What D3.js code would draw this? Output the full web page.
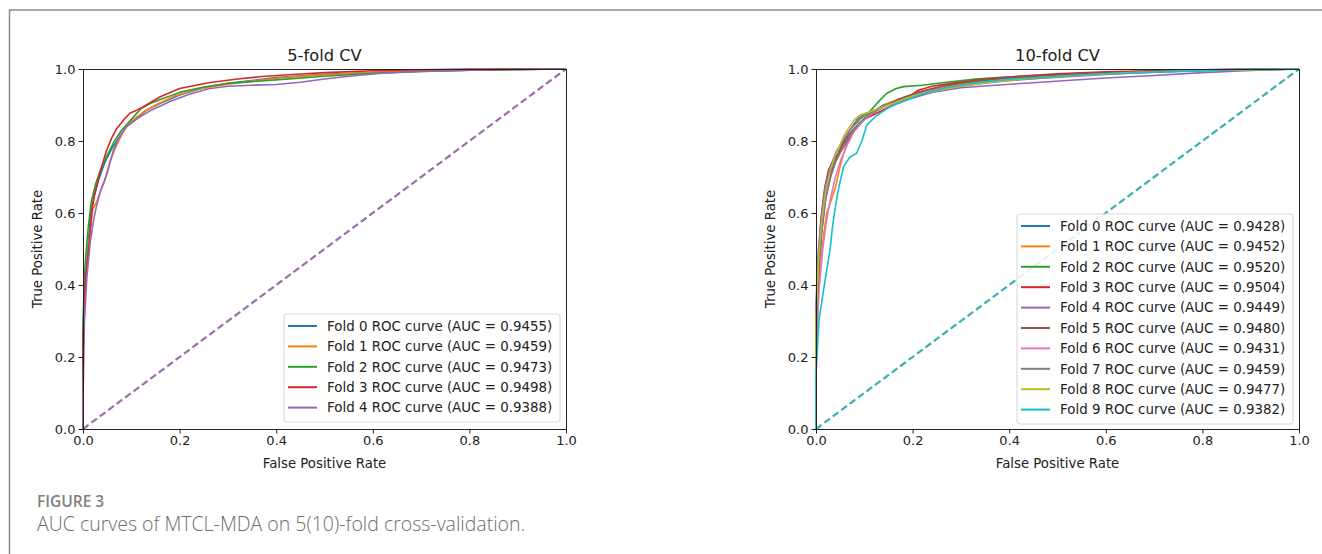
<!DOCTYPE html>
<html>
<head>
<meta charset="utf-8">
<script src="https://cdn.jsdelivr.net/npm/d3@7"></script>
<style>
body { margin: 0; background: #fff; }
svg text { font-family: "DejaVu Sans", sans-serif; fill: #222; }
.caption text { font-family: "Open Sans", "Lato", sans-serif; }
</style>
</head>
<body>
<div id="chart"></div>
<script>
// data
var foldColors = ["#1f77b4", "#ff7f0e", "#2ca02c", "#d62728", "#9467bd",
  "#8c564b", "#e377c2", "#7f7f7f", "#bcbd22", "#17becf"];
var ticks = [0, 0.2, 0.4, 0.6, 0.8, 1.0];
var chance = [[0, 0], [1, 1]];

var auc5 = [0.9455, 0.9459, 0.9473, 0.9498, 0.9388];
var auc10 = [0.9428, 0.9452, 0.9520, 0.9504, 0.9449, 0.9480, 0.9431, 0.9459, 0.9477, 0.9382];

var cv5 = [
  [[0,0],[0,0.22],[0.004,0.38],[0.01,0.5],[0.016,0.6],[0.024,0.65],[0.032,0.69],[0.045,0.74],[0.06,0.78],[0.075,0.81],[0.09,0.84],[0.11,0.86],[0.13,0.885],[0.16,0.905],[0.2,0.928],[0.25,0.948],[0.3,0.96],[0.35,0.968],[0.4,0.976],[0.5,0.985],[0.6,0.99],[0.7,0.994],[0.8,0.997],[0.9,0.999],[1,1]],
  [[0,0],[0,0.2],[0.005,0.4],[0.012,0.52],[0.02,0.61],[0.028,0.63],[0.036,0.66],[0.045,0.69],[0.055,0.74],[0.07,0.79],[0.085,0.83],[0.1,0.855],[0.125,0.88],[0.15,0.9],[0.19,0.925],[0.24,0.945],[0.3,0.958],[0.36,0.968],[0.42,0.977],[0.5,0.984],[0.6,0.99],[0.7,0.995],[0.8,0.998],[1,1]],
  [[0,0],[0,0.3],[0.004,0.45],[0.01,0.55],[0.017,0.63],[0.026,0.68],[0.036,0.72],[0.05,0.76],[0.065,0.8],[0.08,0.83],[0.1,0.86],[0.12,0.89],[0.14,0.905],[0.17,0.92],[0.2,0.935],[0.25,0.95],[0.3,0.96],[0.35,0.965],[0.42,0.972],[0.5,0.98],[0.6,0.988],[0.7,0.993],[0.8,0.997],[1,1]],
  [[0,0],[0,0.25],[0.005,0.42],[0.012,0.5],[0.018,0.6],[0.022,0.64],[0.028,0.675],[0.039,0.73],[0.049,0.775],[0.06,0.81],[0.07,0.835],[0.085,0.86],[0.097,0.877],[0.11,0.885],[0.125,0.895],[0.16,0.923],[0.2,0.946],[0.26,0.962],[0.32,0.972],[0.37,0.979],[0.45,0.986],[0.5,0.99],[0.6,0.995],[0.7,0.998],[0.8,1],[1,1]],
  [[0,0],[0,0.08],[0.003,0.3],[0.008,0.42],[0.015,0.52],[0.022,0.58],[0.028,0.62],[0.036,0.66],[0.05,0.71],[0.063,0.775],[0.075,0.81],[0.09,0.84],[0.11,0.86],[0.14,0.885],[0.18,0.91],[0.22,0.93],[0.26,0.945],[0.3,0.952],[0.35,0.955],[0.4,0.957],[0.45,0.963],[0.5,0.972],[0.55,0.98],[0.62,0.988],[0.7,0.993],[0.8,0.997],[0.9,0.999],[1,1]]
];

var cv10 = [
  [[0,0],[0,0.25],[0.005,0.42],[0.012,0.55],[0.02,0.64],[0.03,0.7],[0.042,0.75],[0.055,0.79],[0.07,0.82],[0.09,0.85],[0.11,0.875],[0.14,0.9],[0.18,0.92],[0.23,0.94],[0.3,0.955],[0.38,0.968],[0.46,0.977],[0.55,0.984],[0.65,0.99],[0.75,0.995],[0.87,0.998],[1,1]],
  [[0,0],[0,0.2],[0.006,0.4],[0.014,0.52],[0.022,0.6],[0.03,0.63],[0.04,0.67],[0.05,0.73],[0.06,0.78],[0.075,0.82],[0.095,0.855],[0.12,0.88],[0.15,0.905],[0.19,0.925],[0.24,0.945],[0.3,0.96],[0.38,0.972],[0.46,0.98],[0.55,0.987],[0.65,0.992],[0.8,0.997],[1,1]],
  [[0,0],[0,0.3],[0.005,0.48],[0.012,0.58],[0.02,0.66],[0.03,0.72],[0.042,0.77],[0.056,0.8],[0.07,0.83],[0.09,0.86],[0.11,0.88],[0.13,0.91],[0.146,0.932],[0.165,0.945],[0.181,0.951],[0.22,0.955],[0.27,0.963],[0.33,0.972],[0.4,0.978],[0.5,0.985],[0.6,0.99],[0.72,0.995],[0.85,0.998],[1,1]],
  [[0,0],[0,0.3],[0.004,0.45],[0.01,0.58],[0.018,0.67],[0.026,0.72],[0.036,0.747],[0.05,0.77],[0.065,0.8],[0.08,0.83],[0.1,0.86],[0.13,0.88],[0.16,0.9],[0.19,0.92],[0.21,0.94],[0.24,0.952],[0.28,0.96],[0.34,0.97],[0.42,0.98],[0.5,0.987],[0.6,0.992],[0.72,0.996],[0.85,0.999],[1,1]],
  [[0,0],[0,0.35],[0.005,0.5],[0.012,0.6],[0.02,0.68],[0.03,0.73],[0.042,0.77],[0.056,0.8],[0.07,0.83],[0.085,0.86],[0.1,0.875],[0.12,0.885],[0.15,0.9],[0.19,0.915],[0.24,0.935],[0.3,0.948],[0.37,0.955],[0.45,0.962],[0.52,0.968],[0.6,0.975],[0.7,0.982],[0.8,0.99],[0.9,0.996],[1,1]],
  [[0,0],[0,0.28],[0.005,0.45],[0.012,0.56],[0.02,0.65],[0.03,0.71],[0.04,0.75],[0.055,0.79],[0.07,0.82],[0.09,0.85],[0.11,0.87],[0.14,0.895],[0.17,0.915],[0.21,0.935],[0.26,0.952],[0.32,0.965],[0.4,0.975],[0.48,0.982],[0.57,0.988],[0.68,0.993],[0.8,0.997],[1,1]],
  [[0,0],[0,0.2],[0.006,0.38],[0.014,0.5],[0.022,0.58],[0.03,0.64],[0.04,0.7],[0.052,0.75],[0.065,0.79],[0.08,0.83],[0.1,0.86],[0.12,0.88],[0.15,0.9],[0.19,0.92],[0.24,0.94],[0.3,0.955],[0.37,0.965],[0.45,0.973],[0.55,0.981],[0.65,0.988],[0.78,0.995],[1,1]],
  [[0,0],[0,0.25],[0.005,0.43],[0.012,0.55],[0.02,0.64],[0.03,0.7],[0.04,0.74],[0.055,0.78],[0.07,0.815],[0.09,0.85],[0.11,0.875],[0.14,0.895],[0.18,0.915],[0.22,0.93],[0.27,0.945],[0.33,0.958],[0.4,0.968],[0.48,0.976],[0.57,0.984],[0.67,0.99],[0.8,0.996],[1,1]],
  [[0,0],[0,0.3],[0.005,0.47],[0.012,0.58],[0.02,0.66],[0.03,0.72],[0.04,0.76],[0.05,0.79],[0.06,0.82],[0.07,0.84],[0.08,0.86],[0.091,0.872],[0.11,0.88],[0.14,0.895],[0.17,0.91],[0.2,0.925],[0.25,0.94],[0.3,0.952],[0.37,0.965],[0.45,0.975],[0.55,0.983],[0.65,0.99],[0.78,0.995],[1,1]],
  [[0,0],[0,0.15],[0.006,0.3],[0.015,0.38],[0.022,0.44],[0.029,0.497],[0.034,0.56],[0.039,0.608],[0.047,0.67],[0.057,0.729],[0.07,0.755],[0.084,0.766],[0.095,0.8],[0.105,0.844],[0.125,0.87],[0.153,0.895],[0.185,0.912],[0.222,0.932],[0.27,0.948],[0.33,0.962],[0.4,0.972],[0.5,0.98],[0.6,0.987],[0.72,0.992],[0.85,0.997],[0.88,1],[1,1]]
];

var width = 1322;
var height = 554;

var svg = d3.select("#chart")
  .append("svg")
  .attr("width", width)
  .attr("height", height);

// outer frame of the figure box
svg.append("rect")
  .attr("x", 9.5)
  .attr("y", 10)
  .attr("width", width)
  .attr("height", height)
  .attr("fill", "none")
  .attr("stroke", "#8a8a8a")
  .attr("stroke-width", 1.5);

function drawPanel(left, title, curves, aucs, diagColor, legendTop) {
  var top = 69, w = 483, h = 360;
  var x = d3.scaleLinear().domain([0, 1]).range([left, left + w]);
  var y = d3.scaleLinear().domain([0, 1]).range([top + h, top]);
  var g = svg.append("g");

  var line = d3.line()
    .x(function(d) { return x(d[0]); })
    .y(function(d) { return y(d[1]); });

  // chance line
  g.append("path")
    .datum(chance)
    .attr("d", line)
    .attr("fill", "none")
    .attr("stroke", diagColor)
    .attr("stroke-width", 2.2)
    .attr("stroke-dasharray", "7,3.5");

  curves.forEach(function(c, i) {
    g.append("path")
      .datum(c)
      .attr("d", line)
      .attr("fill", "none")
      .attr("stroke", foldColors[i])
      .attr("stroke-width", 1.6)
      .attr("stroke-linejoin", "round");
  });

  // axes
  var xAxis = d3.axisBottom(x).tickValues(ticks).tickFormat(d3.format(".1f")).tickSize(4.5).tickPadding(2);
  var yAxis = d3.axisLeft(y).tickValues(ticks).tickFormat(d3.format(".1f")).tickSize(4.5).tickPadding(3);

  var gx = g.append("g").attr("transform", "translate(0," + (top + h) + ")").call(xAxis);
  var gy = g.append("g").attr("transform", "translate(" + left + ",0)").call(yAxis);
  [gx, gy].forEach(function(a) {
    a.select(".domain").remove();
    a.selectAll("line").attr("stroke", "#222");
    a.selectAll("text").attr("font-size", 13).attr("font-family", "DejaVu Sans").attr("fill", "#222");
  });

  g.append("rect")
    .attr("x", left + 0.5).attr("y", top + 0.5)
    .attr("width", w).attr("height", h)
    .attr("fill", "none").attr("stroke", "#222").attr("stroke-width", 1);

  g.append("text")
    .attr("x", left + w / 2).attr("y", 61)
    .attr("text-anchor", "middle")
    .attr("font-size", 16.3)
    .text(title);

  g.append("text")
    .attr("x", left + w / 2).attr("y", 468)
    .attr("text-anchor", "middle")
    .attr("font-size", 13.3)
    .text("False Positive Rate");

  g.append("text")
    .attr("transform", "translate(" + (left - 41) + "," + (top + h / 2) + ")rotate(-90)")
    .attr("text-anchor", "middle")
    .attr("font-size", 13.3)
    .text("True Positive Rate");

  // legend
  var lx = left + w - 282, rowH = 20.4;
  var lg = g.append("g");
  lg.append("rect")
    .attr("x", lx).attr("y", legendTop)
    .attr("width", 276).attr("height", aucs.length * rowH + 6)
    .attr("rx", 3)
    .attr("fill", "#fff").attr("fill-opacity", 0.85)
    .attr("stroke", "#d6d6d6");
  aucs.forEach(function(a, i) {
    var ry = legendTop + 12 + i * rowH;
    lg.append("line")
      .attr("x1", lx + 4).attr("x2", lx + 33)
      .attr("y1", ry).attr("y2", ry)
      .attr("stroke", foldColors[i]).attr("stroke-width", 2);
    lg.append("text")
      .attr("x", lx + 43).attr("y", ry + 4.8)
      .attr("font-size", 13.4)
      .text("Fold " + i + " ROC curve (AUC = " + a.toFixed(4) + ")");
  });
}

drawPanel(83, "5-fold CV", cv5, auc5, "#9b6fa8", 314);
drawPanel(816, "10-fold CV", cv10, auc10, "#3bb1ad", 214);

// caption
var cap = svg.append("g").attr("class", "caption");
cap.append("text")
  .attr("x", 37).attr("y", 507)
  .attr("font-size", 15.5)
  .attr("font-weight", 600)
  .style("fill", "#808080")
  .text("FIGURE 3");
cap.append("text")
  .attr("x", 37).attr("y", 531)
  .attr("font-size", 19.5)
  .attr("font-weight", 300)
  .style("fill", "#6e6e6e")
  .text("AUC curves of MTCL-MDA on 5(10)-fold cross-validation.");
</script>
</body>
</html>
